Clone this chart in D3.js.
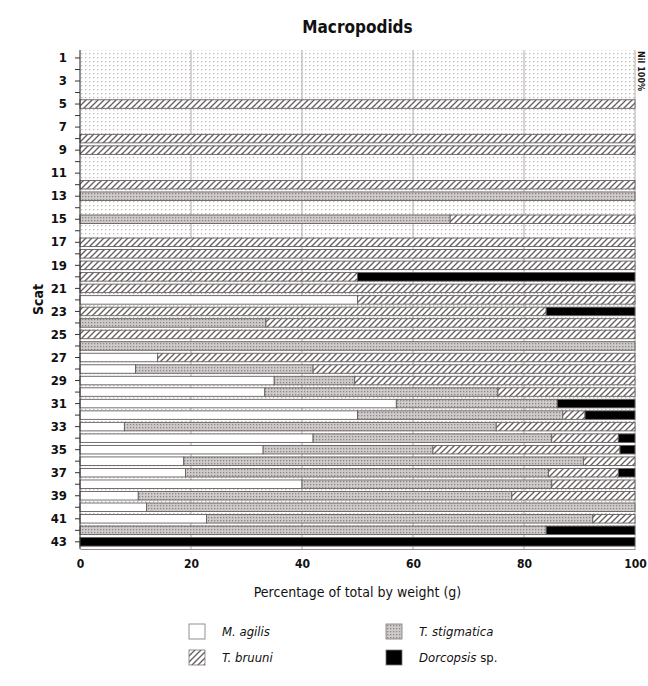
<!DOCTYPE html>
<html>
<head>
<meta charset="utf-8">
<script src="https://cdn.jsdelivr.net/npm/d3@7"></script>
<style>
  html, body { margin: 0; padding: 0; background: #fff; }
  svg text { font-family: "Liberation Sans Narrow", "DejaVu Sans Condensed", "Roboto Condensed", sans-serif; fill: #111; }
</style>
</head>
<body>
<svg id="chart" width="648" height="686"></svg>
<script>
// Scat numbers (rows, top to bottom)
const scats = d3.range(1, 44);

// Percentage of total macropodid weight in each scat, per species
const agilis     = [0,0,0,0,0,0,0,0,0,0,0,0,0,0,0,0,0,0,0,0,0,50,0,0,0,0,14,10,35,33.3,57,50,8,42,33,18.7,19,40,10.5,12,22.8,0,0];
const stigmatica = [0,0,0,0,0,0,0,0,0,0,0,0,100,0,66.7,0,0,0,0,0,0,0,0,33.5,0,100,0,32,14.5,42,29,37,67,43,30.6,72,65.4,45,67.3,88,69.6,84,0];
const bruuni     = [0,0,0,0,100,0,0,100,100,0,0,100,0,0,33.3,0,100,100,100,50,100,50,84,66.5,100,0,86,58,50.5,24.7,0,4,25,12,33.7,9.3,12.6,15,22.2,0,7.6,0,0];
const dorcopsis  = [0,0,0,0,0,0,0,0,0,0,0,0,0,0,0,0,0,0,0,50,0,0,16,0,0,0,0,0,0,0,14,9,0,3,2.7,0,3,0,0,0,0,16,100];

// Stacking order from left to right
const seriesKeys = ["agilis", "stigmatica", "bruuni", "dorcopsis"];
const xTicks = [0, 20, 40, 60, 80, 100];

const svg = d3.select("#chart");
const W = 648;
const plotL = 80, plotR = 635;
const plotT = 50, plotB = 549;

// Fill patterns
const defs = svg.append("defs");
const bg = defs.append("pattern").attr("id", "bgdots")
  .attr("patternUnits", "userSpaceOnUse").attr("width", 4).attr("height", 4);
bg.append("rect").attr("width", 4).attr("height", 4).attr("fill", "#fff");
bg.append("rect").attr("x", 1).attr("y", 1).attr("width", 1.3).attr("height", 1.3).attr("fill", "#c4bcbc");

const st = defs.append("pattern").attr("id", "stipple")
  .attr("patternUnits", "userSpaceOnUse").attr("width", 3).attr("height", 3);
st.append("rect").attr("width", 3).attr("height", 3).attr("fill", "#d0cbcb");
st.append("rect").attr("x", 1).attr("y", 1).attr("width", 1.3).attr("height", 1.3).attr("fill", "#8e8686");

const hb = defs.append("pattern").attr("id", "hatch")
  .attr("patternUnits", "userSpaceOnUse").attr("width", 6).attr("height", 6);
hb.append("rect").attr("width", 6).attr("height", 6).attr("fill", "#fff");
hb.append("path").attr("d", "M-1,7 L7,-1 M-1,1 L1,-1 M5,7 L7,5")
  .attr("stroke", "#6a6262").attr("stroke-width", 1.4);

const fills = {
  agilis: "#ffffff",
  stigmatica: "url(#stipple)",
  bruuni: "url(#hatch)",
  dorcopsis: "#000000"
};

// Scales
const x = d3.scaleLinear().domain([0, 100]).range([plotL, plotR]);
const y = d3.scaleBand().domain(scats).range([52.2, 547.6]).paddingInner(0.26).paddingOuter(0.13);

// Plot background
svg.append("rect").attr("x", plotL).attr("y", plotT)
  .attr("width", plotR - plotL).attr("height", plotB - plotT)
  .attr("fill", "url(#bgdots)");

// Vertical gridlines
svg.append("g").selectAll("line").data([20, 40, 60, 80, 100]).join("line")
  .attr("x1", d => x(d)).attr("x2", d => x(d))
  .attr("y1", plotT).attr("y2", plotB)
  .attr("stroke", "#b3a9a9").attr("stroke-width", 1);

// Stacked bars
const rows = scats.map((s, i) => ({
  scat: s, agilis: agilis[i], stigmatica: stigmatica[i], bruuni: bruuni[i], dorcopsis: dorcopsis[i]
}));
const stacked = d3.stack().keys(seriesKeys)(rows);

svg.append("g").selectAll("g").data(stacked).join("g")
  .attr("fill", d => fills[d.key])
  .selectAll("rect").data(d => d.filter(p => p[1] - p[0] > 0)).join("rect")
  .attr("x", d => x(d[0]))
  .attr("y", d => y(d.data.scat))
  .attr("width", d => x(d[1]) - x(d[0]))
  .attr("height", y.bandwidth())
  .attr("stroke", "#655f5f").attr("stroke-width", 0.9);

// Axes
const yAxis = d3.axisLeft(y).tickSize(5).tickPadding(8)
  .tickFormat(d => d % 2 === 1 ? d : "");
const gy = svg.append("g").attr("transform", `translate(${plotL},0)`).call(yAxis);
gy.select(".domain").attr("d", `M0,${plotT}V${plotB}`).attr("stroke", "#222");
gy.selectAll(".tick line").attr("stroke", "#333");
gy.selectAll("text").attr("font-size", 13).attr("font-weight", "bold");

const xAxis = d3.axisBottom(x).tickValues(xTicks).tickSize(0).tickPadding(10);
const gx = svg.append("g").attr("transform", `translate(0,${plotB})`).call(xAxis);
gx.select(".domain").attr("stroke", "#9a9090");
gx.selectAll("text").attr("font-size", 12).attr("font-weight", "bold");

// Titles
svg.append("text").attr("x", (plotL + plotR) / 2).attr("y", 33)
  .attr("text-anchor", "middle").attr("font-size", 17).attr("font-weight", "bold")
  .text("Macropodids");
svg.append("text").attr("transform", `translate(43,${(plotT + plotB) / 2}) rotate(-90)`)
  .attr("text-anchor", "middle").attr("font-size", 14).attr("font-weight", "bold")
  .text("Scat");
svg.append("text").attr("x", (plotL + plotR) / 2).attr("y", 597)
  .attr("text-anchor", "middle").attr("font-size", 14)
  .text("Percentage of total by weight (g)");
svg.append("text").attr("transform", `translate(638,${plotT + 1}) rotate(90)`)
  .attr("font-size", 9).attr("font-weight", "bold")
  .text("Nil 100%");

// Legend
const legendItems = [
  { key: "agilis", label: "M. agilis", col: 0, row: 0 },
  { key: "stigmatica", label: "T. stigmatica", col: 1, row: 0 },
  { key: "bruuni", label: "T. bruuni", col: 0, row: 1 },
  { key: "dorcopsis", label: "Dorcopsis", suffix: " sp.", col: 1, row: 1 }
];
const lg = svg.append("g").selectAll("g").data(legendItems).join("g")
  .attr("transform", d => `translate(${189 + d.col * 197},${624 + d.row * 26})`);
lg.append("rect").attr("width", 16).attr("height", 15)
  .attr("fill", d => fills[d.key]).attr("stroke", "#777").attr("stroke-width", 0.8);
const lt = lg.append("text").attr("x", 33).attr("y", 12).attr("font-size", 13);
lt.append("tspan").attr("font-style", "italic").text(d => d.label);
lt.append("tspan").text(d => d.suffix || "");
</script>
</body>
</html>
